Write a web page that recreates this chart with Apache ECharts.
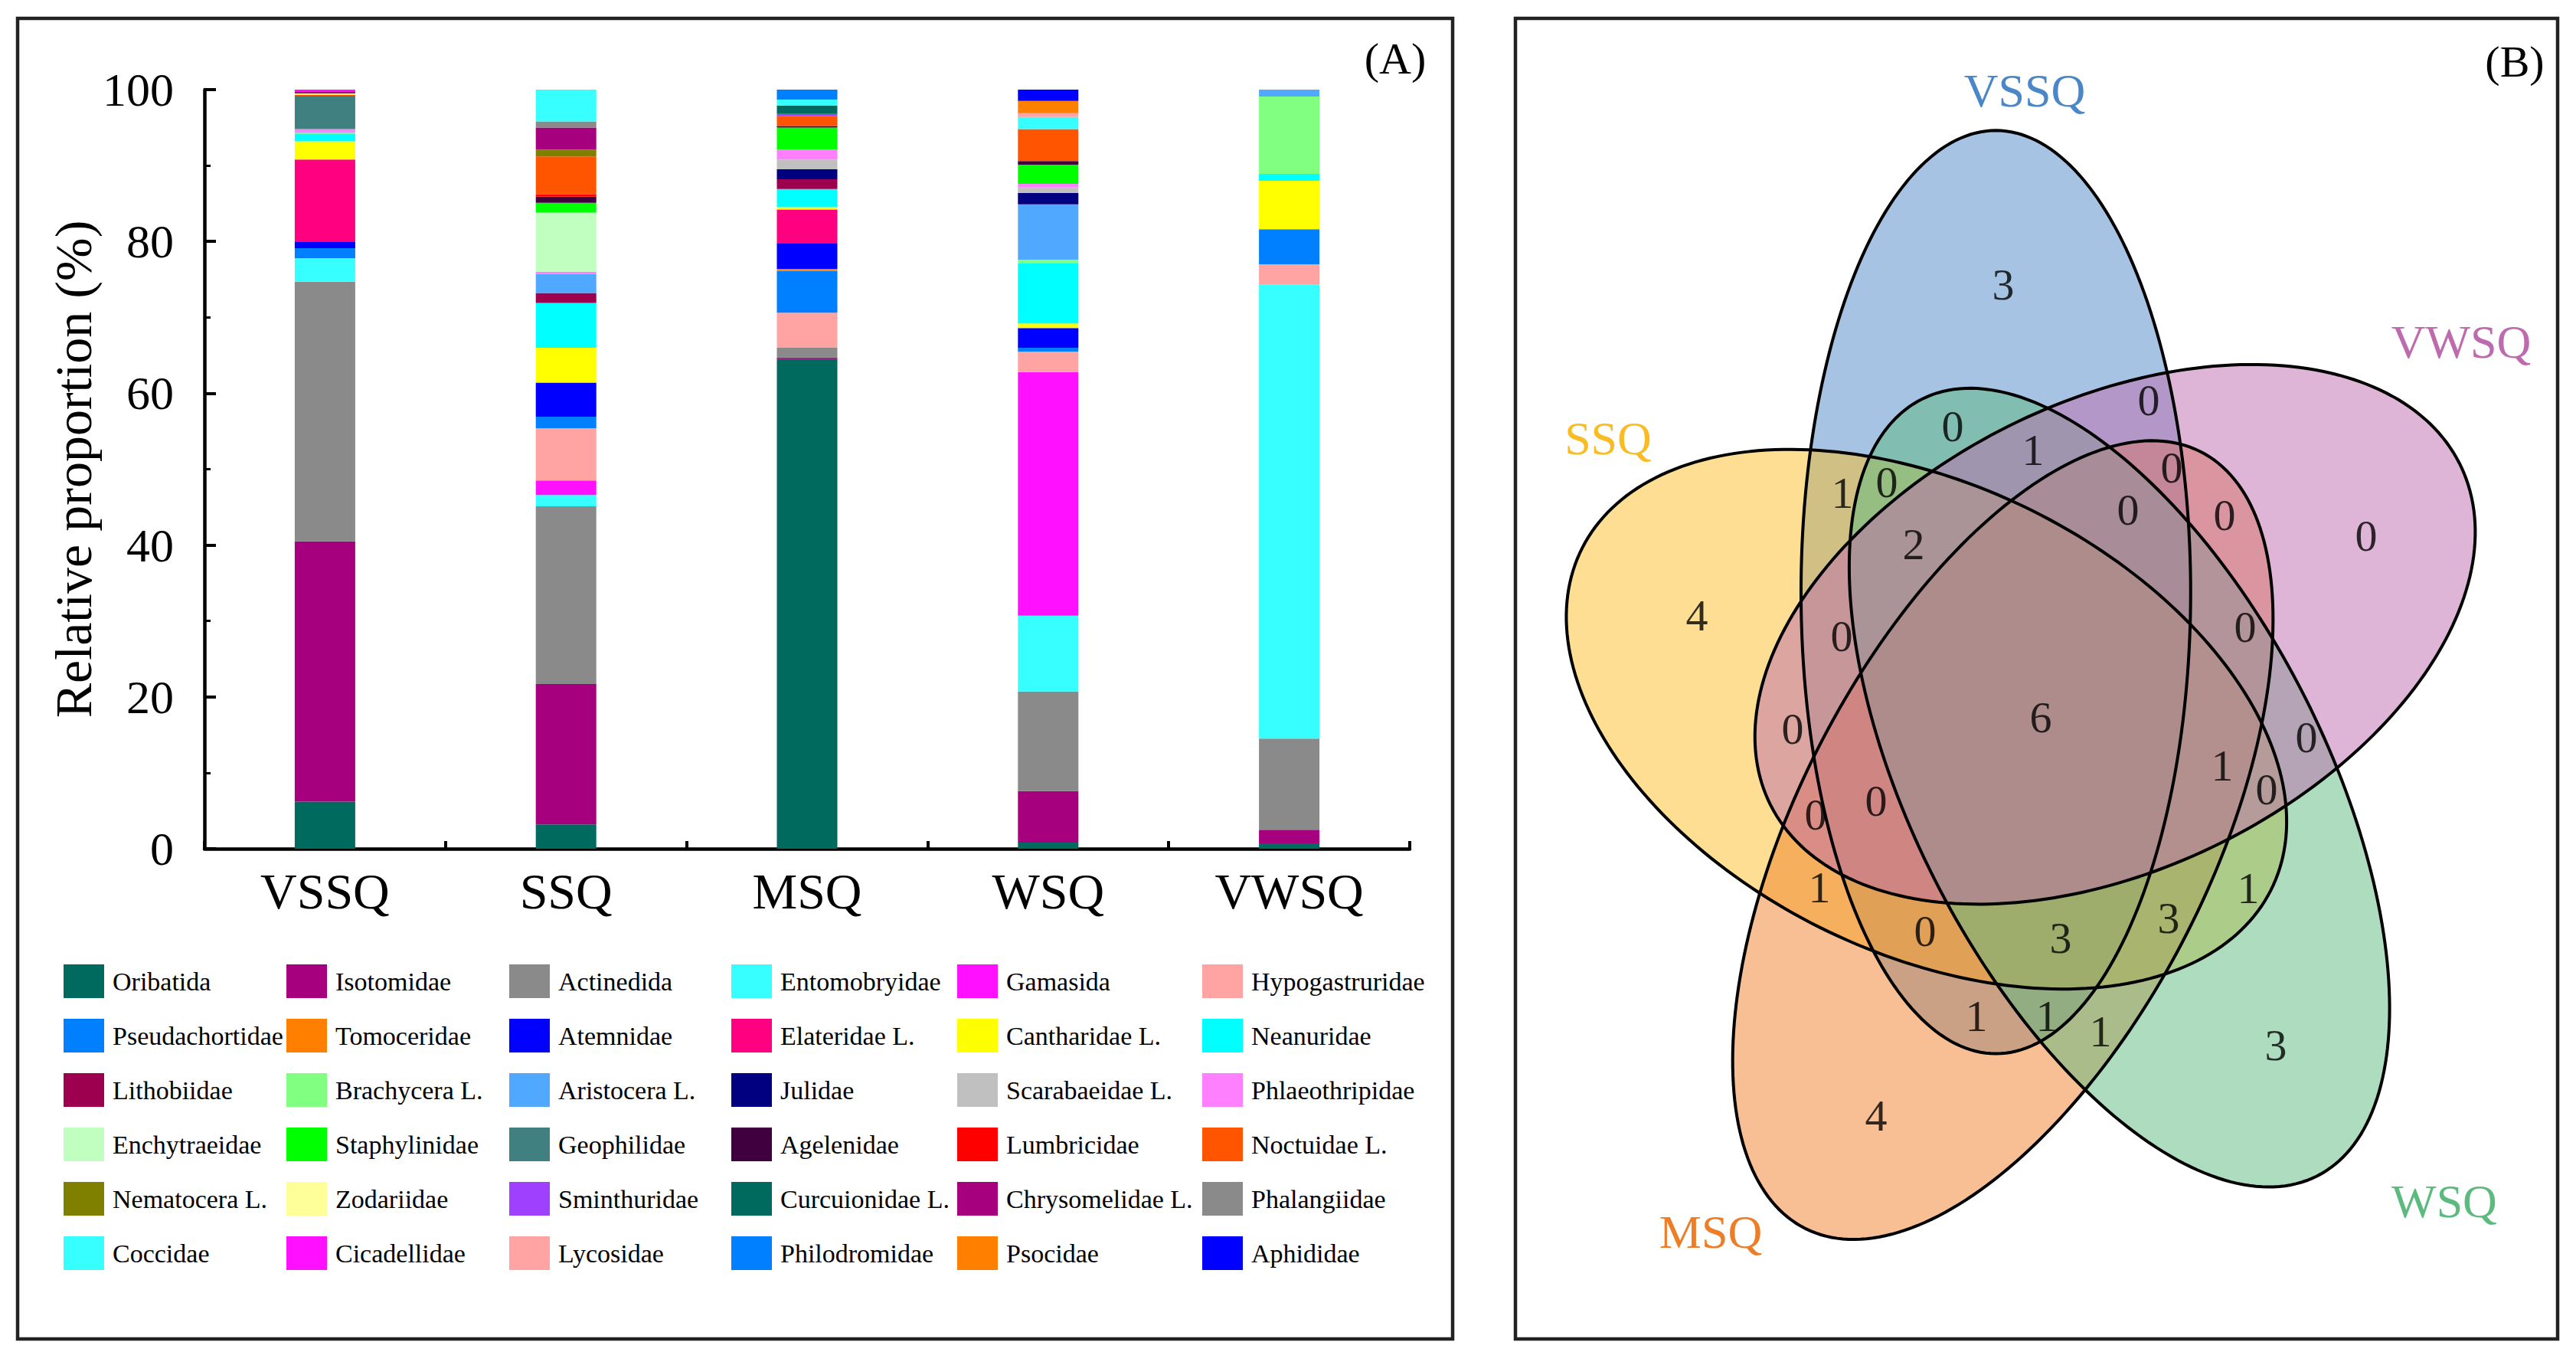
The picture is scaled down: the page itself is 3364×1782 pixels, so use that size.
<!DOCTYPE html>
<html><head><meta charset="utf-8">
<script src="https://cdn.jsdelivr.net/npm/echarts@6/dist/echarts.min.js"></script>
<style>html,body{margin:0;padding:0;background:#fff}#c{width:3364px;height:1782px}</style>
</head><body><div id="c"></div><script>
// ---------- data ----------
const categories = ['VSSQ', 'SSQ', 'MSQ', 'WSQ', 'VWSQ'];
const taxa = ['Oribatida','Isotomidae','Actinedida','Entomobryidae','Gamasida','Hypogastruridae',
  'Pseudachortidae','Tomoceridae','Atemnidae','Elateridae L.','Cantharidae L.','Neanuridae',
  'Lithobiidae','Brachycera L.','Aristocera L.','Julidae','Scarabaeidae L.','Phlaeothripidae',
  'Enchytraeidae','Staphylinidae','Geophilidae','Agelenidae','Lumbricidae','Noctuidae L.',
  'Nematocera L.','Zodariidae','Sminthuridae','Curcuionidae L.','Chrysomelidae L.','Phalangiidae',
  'Coccidae','Cicadellidae','Lycosidae','Philodromidae','Psocidae','Aphididae'];
// relative proportion (%) of each taxon, in the order of `taxa`
const VSSQ = [6.2,34.3,34.2,3.1,0,0, 1.3,0,0.9,10.8,2.4,1.0, 0,0.1,0.1,0,0,0.4, 0,0,4.4,0,0,0.15, 0,0.15,0,0,0.2,0, 0,0.3,0,0,0,0];
const SSQ  = [3.2,18.5,23.4,1.5,1.9,6.9, 1.5,0,4.5,0,4.6,5.9, 1.3,0,2.5,0,0,0.3, 7.8,1.3,0,0.8,0.3,5.0, 0.9,0,0,0,2.9,0.8, 4.2,0,0,0,0,0];
const MSQ  = [64.5,0.2,1.3,0,0,4.6, 5.5,0.3,3.4,4.4,0.3,2.4, 1.3,0,0,1.3,1.3,1.3, 0,2.9,0,0.2,0,1.3, 0,0,0.3,1.1,0,0, 0.8,0,0,1.3,0,0];
const WSQ  = [0.8,6.8,13.1,10.0,32.1,2.7, 0.5,0,2.6,0,0.6,7.9, 0,0.5,7.3,1.5,0.7,0.5, 0,2.5,0,0.5,0,4.2, 0,0,0,0,0,0, 1.6,0,0.5,0,1.6,1.5];
const VWSQ = [0.7,1.8,12.0,59.8,0,2.7, 4.6,0,0,0,6.4,0.9, 0,10.2,0.9,0,0,0, 0,0,0,0,0,0, 0,0,0,0,0,0, 0,0,0,0,0,0];
const yTicks = [0, 20, 40, 60, 80, 100];
// Venn diagram: sets and region counts
const vennSets = ['VSSQ', 'SSQ', 'MSQ', 'WSQ', 'VWSQ'];
const vennCounts = [3,0,4,0,0,1,1,0,0,0,0,2,0,0,6,0,0,1,0,0,0,1,1,3,0,3,1,1,1,3,4];

// ---------- styles / layout ----------
const colors = ['#006A5E','#A6007F','#8A8A8A','#38FFFF','#FF10FF','#FFA3A3',
  '#0080FF','#FF8000','#0000FF','#FF0080','#FFFF00','#00FFFF',
  '#9C004F','#80FF80','#50A8FF','#000080','#C0C0C0','#FF80FF',
  '#C0FFC0','#00FF00','#408080','#400040','#FF0000','#FF5500',
  '#808000','#FFFF99','#A040FF','#006A5E','#A6007F','#8A8A8A',
  '#38FFFF','#FF10FF','#FFA3A3','#0080FF','#FF8000','#0000FF'];
const FONT = 'Liberation Serif';
const legendColX = [83, 374, 665, 955, 1250, 1570];
const vennSlot = {VSSQ:0, VWSQ:1, WSQ:2, MSQ:3, SSQ:4};
const vennFill = {VSSQ:'rgba(79,135,199,0.5)', SSQ:'rgba(251,189,37,0.5)', MSQ:'rgba(239,127,39,0.5)',
  WSQ:'rgba(91,185,127,0.5)', VWSQ:'rgba(189,107,173,0.5)'};
const vennNameColor = {VSSQ:'#4A86C8', SSQ:'#F9BC22', MSQ:'#EE7D27', WSQ:'#5CBA7F', VWSQ:'#BE6AAE'};
const vennNamePos = {VSSQ:[2644,118], SSQ:[2100,572], VWSQ:[3214,446], MSQ:[2234,1608], WSQ:[3192,1568]};
const vennLabelPos = [[2616,371],[3090,699],[2216,803],[2550,556],[2806,522],[2655,587],[2406,643],[2464,629],
  [2836,610],[2779,665],[2905,672],[2499,710],[2405,830],[2932,818],[2665,936],[2341,951],[3012,962],
  [2902,999],[2960,1030],[2450,1045],[2371,1063],[2376,1158],[2936,1159],[2832,1198],[2514,1215],
  [2691,1224],[2581,1326],[2673,1326],[2743,1346],[2972,1364],[2450,1456]];
// Venn geometry (5-set symmetric ellipse layout, stretched)
const V = {cx:2653.5, cy:933, sx:1060, sy:1310, a:0.24, b:0.46, d:0.13, init:-20};

function ellipsePoints(slot) {
  const th = -72 * slot * Math.PI / 180;
  const ox = -V.d * Math.sin(-V.init * Math.PI / 180);
  const oy = V.d * Math.cos(V.init * Math.PI / 180);
  const pts = [];
  for (let j = 0; j < 240; j++) {
    const t = 2 * Math.PI * j / 240;
    const x = V.a * Math.cos(t) + ox, y = V.b * Math.sin(t) + oy;
    const xr = x * Math.cos(th) - y * Math.sin(th);
    const yr = x * Math.sin(th) + y * Math.cos(th);
    pts.push([V.cx + xr * V.sx, V.cy - yr * V.sy]);
  }
  return pts;
}

const byCat = {VSSQ, SSQ, MSQ, WSQ, VWSQ};
const barSeries = taxa.map((name, i) => ({
  name, type: 'bar', stack: 'total', barWidth: 79, xAxisIndex: 0, yAxisIndex: 0,
  itemStyle: {color: colors[i]}, emphasis: {disabled: true},
  data: categories.map(c => byCat[c][i])
}));

const legends = legendColX.map((x, c) => ({
  left: x, top: 1259, orient: 'vertical', padding: 0, itemWidth: 53, itemHeight: 44, itemGap: 27,
  icon: 'rect', selectedMode: false,
  data: taxa.filter((_, i) => i % 6 === c),
  textStyle: {fontFamily: FONT, fontSize: 34, color: '#000', padding: [0, 0, 0, 6]}
}));

function vennShape(style) {
  return (params, api) => {
    const s = vennSets[api.value(2)];
    const pts = ellipsePoints(vennSlot[s]).map(p => api.coord(p));
    return {type: 'polygon', shape: {points: pts},
      style: style === 'fill' ? {fill: vennFill[s], stroke: null} : {fill: null, stroke: '#000', lineWidth: 4}};
  };
}

const option = {
  animation: false,
  backgroundColor: '#fff',
  textStyle: {fontFamily: FONT},
  grid: [
    {left: 267, top: 117, width: 1574, height: 991},
    {left: 1979, top: 24, width: 1361, height: 1724}
  ],
  xAxis: [
    {gridIndex: 0, type: 'category', data: categories,
      axisLine: {lineStyle: {color: '#000', width: 4.5}},
      axisTick: {show: true, inside: true, length: 10, lineStyle: {width: 4, color: '#000'}},
      axisLabel: {fontFamily: FONT, fontSize: 66, color: '#000', margin: 22}},
    {gridIndex: 1, type: 'value', min: 1979, max: 3340, show: false}
  ],
  yAxis: [
    {gridIndex: 0, type: 'value', min: yTicks[0], max: yTicks[yTicks.length - 1], interval: 20,
      name: 'Relative proportion (%)', nameLocation: 'middle', nameGap: 109,
      nameTextStyle: {fontFamily: FONT, fontSize: 68, color: '#000'},
      axisLine: {show: true, lineStyle: {color: '#000', width: 4.5}},
      axisTick: {show: true, inside: true, length: 15, lineStyle: {width: 4, color: '#000'}},
      minorTick: {show: true, splitNumber: 2, length: 8, lineStyle: {width: 3, color: '#000'}},
      splitLine: {show: false},
      axisLabel: {fontFamily: FONT, fontSize: 62, color: '#000', margin: 40}},
    {gridIndex: 1, type: 'value', min: 24, max: 1748, inverse: true, show: false}
  ],
  legend: legends,
  graphic: [
    {type: 'rect', shape: {x: 23, y: 24, width: 1874, height: 1724}, style: {fill: null, stroke: '#222', lineWidth: 4.5}, z: 10},
    {type: 'rect', shape: {x: 1979, y: 24, width: 1361, height: 1724}, style: {fill: null, stroke: '#222', lineWidth: 4.5}, z: 10},
    {type: 'text', x: 1822, y: 76, style: {text: '(A)', fontFamily: FONT, fontSize: 58, fill: '#000', align: 'center', verticalAlign: 'middle'}, z: 10},
    {type: 'text', x: 3284, y: 80, style: {text: '(B)', fontFamily: FONT, fontSize: 58, fill: '#000', align: 'center', verticalAlign: 'middle'}, z: 10}
  ].concat(vennSets.map(s => ({type: 'text', x: vennNamePos[s][0], y: vennNamePos[s][1],
    style: {text: s, fontFamily: FONT, fontSize: 62, fill: vennNameColor[s], align: 'center', verticalAlign: 'middle'}, z: 10}))),
  series: barSeries.concat([
    {type: 'custom', name: 'vennFill', xAxisIndex: 1, yAxisIndex: 1, silent: true, z: 1,
      data: vennSets.map((s, i) => [2653, 933, i]), renderItem: vennShape('fill')},
    {type: 'custom', name: 'vennLine', xAxisIndex: 1, yAxisIndex: 1, silent: true, z: 3,
      data: vennSets.map((s, i) => [2653, 933, i]), renderItem: vennShape('line')},
    {type: 'scatter', name: 'vennCounts', xAxisIndex: 1, yAxisIndex: 1, silent: true, z: 4,
      symbolSize: 1, itemStyle: {color: 'rgba(0,0,0,0)'},
      data: vennCounts.map((n, i) => [vennLabelPos[i][0], vennLabelPos[i][1], n]),
      label: {show: true, position: 'inside', formatter: p => String(p.value[2]),
        fontFamily: FONT, fontSize: 58, color: '#000'}}
  ])
};

const chart = echarts.init(document.getElementById('c'), null, {renderer: 'svg', width: 3364, height: 1782});
chart.setOption(option);
</script></body></html>
